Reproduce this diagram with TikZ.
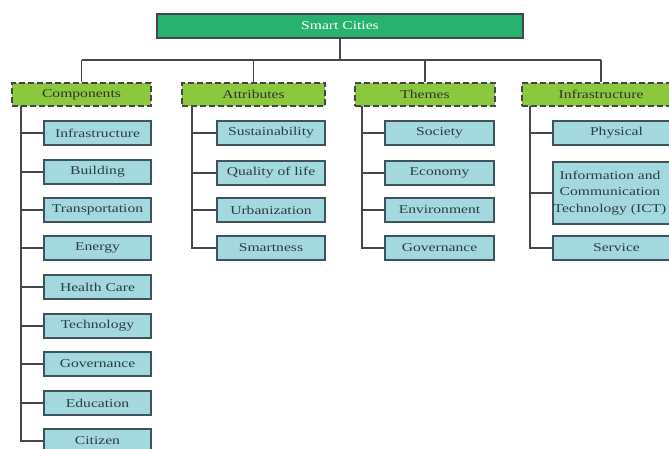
\documentclass[tikz,border=0pt]{standalone}
\usepackage{fontspec}
\setmainfont{Liberation Serif}[FakeStretch=1.3]
\definecolor{topgreen}{RGB}{40,178,112}
\definecolor{catgreen}{RGB}{140,200,62}
\definecolor{childblue}{RGB}{162,216,222}
\definecolor{childedge}{RGB}{62,84,90}
\definecolor{childtext}{RGB}{45,62,68}
\definecolor{linegray}{RGB}{70,70,78}
\tikzset{
  topbox/.style={draw=linegray, line width=1.5pt, fill=topgreen, text=white, inner sep=0pt, font=\fontsize{12}{14}\selectfont},
  catbox/.style={draw=linegray, line width=1.5pt, dash pattern=on 6pt off 3pt, fill=catgreen, text=black!80, inner sep=0pt, minimum height=23pt, font=\fontsize{12}{14}\selectfont},
  childbox/.style={draw=childedge, line width=1.5pt, fill=childblue, text=childtext, inner sep=0pt, minimum height=24pt, font=\fontsize{12}{14}\selectfont},
  conn/.style={draw=linegray, line width=1.4pt},
}
\begin{document}
\begin{tikzpicture}[x=1pt,y=-1pt]
\clip (0,0) rectangle (669,448);
\fill[white] (0,0) rectangle (669,448);
% top
\node[topbox, minimum width=366pt, minimum height=24pt] (top) at (340,26) {Smart Cities};
\coordinate (bus) at (0,60);
% categories
\node[catbox, minimum width=139pt] (comp) at (81.5,94.5) {Components};
\node[catbox, minimum width=143pt] (attr) at (253.5,94.5) {Attributes};
\node[catbox, minimum width=140pt] (them) at (425,94.5) {Themes};
\node[catbox, minimum width=158pt] (infra) at (601,94.5) {Infrastructure};
% bus connectors
\draw[conn] (top.south) -- (top.south |- bus);
\draw[conn] (comp.north |- bus) -- (infra.north |- bus);
\foreach \n in {comp,attr,them,infra}{\draw[conn] (\n.north |- bus) -- (\n.north);}
% components children
\foreach \i/\y/\t in {1/133/Infrastructure,2/172/Building,3/210/Transportation,4/248/Energy,5/287/Health Care,6/326/Technology,7/364/Governance,8/403/Education,9/441/Citizen}{
  \node[childbox, minimum width=107pt] (c\i) at (97.5,\y) {\t};
}
\coordinate (cs) at (21,106);
\draw[conn] (cs) |- (c9.west);
\foreach \i in {1,...,8}{\draw[conn] (cs |- c\i.west) -- (c\i.west);}
% attributes children
\foreach \i/\y/\t in {1/133/Sustainability,2/173/Quality of life,3/210/Urbanization,4/248/Smartness}{
  \node[childbox, minimum width=108pt] (a\i) at (271,\y) {\t};
}
\coordinate (as) at (192,106);
\draw[conn] (as) |- (a4.west);
\foreach \i in {1,2,3}{\draw[conn] (as |- a\i.west) -- (a\i.west);}
% themes children
\foreach \i/\y/\t in {1/133/Society,2/173/Economy,3/210/Environment,4/248/Governance}{
  \node[childbox, minimum width=109pt] (t\i) at (439.5,\y) {\t};
}
\coordinate (ts) at (362,106);
\draw[conn] (ts) |- (t4.west);
\foreach \i in {1,2,3}{\draw[conn] (ts |- t\i.west) -- (t\i.west);}
% infrastructure children
\node[childbox, minimum width=127pt] (i1) at (616.5,133) {Physical};
\node[childbox, minimum width=127pt, minimum height=62pt] (i2) at (616.5,193) {};
\node[align=center, inner sep=0pt, text=childtext, font=\fontsize{12}{16.5}\selectfont] (i2t) at (610,193) {Information and\\Communication\\Technology (ICT)};
\node[childbox, minimum width=127pt] (i3) at (616.5,248) {Service};
\coordinate (is) at (530,106);
\draw[conn] (is) |- (i3.west);
\foreach \i in {1,2}{\draw[conn] (is |- i\i.west) -- (i\i.west);}
\end{tikzpicture}
\end{document}
